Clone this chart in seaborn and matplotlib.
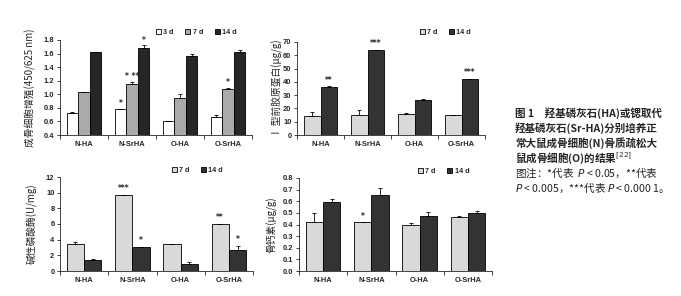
import matplotlib
matplotlib.use("Agg")
import matplotlib.pyplot as plt
import seaborn as sns
import pandas as pd
import numpy as np

sns.set_style("ticks")
plt.rcParams['font.family'] = ['Noto Sans CJK SC', 'DejaVu Sans']
plt.rcParams['mathtext.fontset'] = 'dejavusans'

groups = ["N-HA", "N-SrHA", "O-HA", "O-SrHA"]

# Panel A: osteoblast proliferation
a_days = ["3 d", "7 d", "14 d"]
a_3d = [0.73, 0.78, 0.61, 0.66]
a_7d = [1.03, 1.15, 0.94, 1.08]
a_14d = [1.62, 1.68, 1.56, 1.63]
a_3d_err = [0.01, 0.01, 0.0, 0.03]
a_7d_err = [0.005, 0.03, 0.06, 0.01]
a_14d_err = [0.01, 0.04, 0.03, 0.02]
a_marks = [("N-SrHA", "3 d", "*"), ("N-SrHA", "7 d", "* **"), ("N-SrHA", "14 d", "*"), ("O-SrHA", "7 d", "*")]

# Panel B: type I procollagen
b_days = ["7 d", "14 d"]
b_7d = [14, 15, 16, 15]
b_14d = [36, 64, 26.5, 42]
b_7d_err = [3.5, 4.0, 0.3, 0.4]
b_14d_err = [0.7, 0.3, 0.6, 0.3]
b_marks = [("N-HA", "14 d", "**"), ("N-SrHA", "14 d", "***"), ("O-SrHA", "14 d", "***")]

# Panel C: alkaline phosphatase
c_days = ["7 d", "14 d"]
c_7d = [3.5, 9.7, 3.4, 5.95]
c_14d = [1.4, 3.1, 0.95, 2.65]
c_7d_err = [0.2, 0.05, 0.1, 0.05]
c_14d_err = [0.1, 0.0, 0.25, 0.55]
c_marks = [("N-SrHA", "7 d", "***"), ("N-SrHA", "14 d", "*"), ("O-SrHA", "7 d", "**"), ("O-SrHA", "14 d", "*")]

# Panel D: osteocalcin
d_days = ["7 d", "14 d"]
d_7d = [0.42, 0.42, 0.40, 0.465]
d_14d = [0.59, 0.65, 0.47, 0.50]
d_7d_err = [0.08, 0.0, 0.01, 0.005]
d_14d_err = [0.03, 0.06, 0.04, 0.02]
d_marks = [("N-SrHA", "7 d", "*")]

caption_lines = ["图 1　羟基磷灰石(HA)或锶取代",
                 "羟基磷灰石(Sr-HA)分别培养正",
                 "常大鼠成骨细胞(N)骨质疏松大",
                 "鼠成骨细胞(O)的结果$^{[22]}$"]
note_lines = ["图注：*代表  $P$ < 0.05，**代表",
              "$P$ < 0.005，***代表 $P$ < 0.000 1。"]

W, H = 681, 296
fig = plt.figure(figsize=(W / 100, H / 100), dpi=100)


def rect(l, t, r, b):
    return [l / W, 1 - b / H, (r - l) / W, (b - t) / H]


def panel(pos, days, vals, errs, colors, ylim, yticks, yfmt, ylabel, marks, leg_anchor, ylab_x, mark_off):
    ax = fig.add_axes(rect(*pos))
    rows = []
    for d, v, e in zip(days, vals, errs):
        for g, vv, ee in zip(groups, v, e):
            rows.append({"group": g, "day": d, "value": vv, "err": ee})
    df = pd.DataFrame(rows)
    sns.barplot(data=df, x="group", y="value", hue="day", order=groups, hue_order=days,
                palette=colors, errorbar=None, width=0.72, edgecolor="black", linewidth=0.6,
                saturation=1, ax=ax)
    centers = {}
    for d, cont, e in zip(days, ax.containers, errs):
        xs = [p.get_x() + p.get_width() / 2 for p in cont.patches]
        ys = [p.get_height() for p in cont.patches]
        ax.errorbar(xs, ys, yerr=[np.zeros(len(e)), e], fmt="none", ecolor="black",
                    elinewidth=0.6, capsize=1.6, capthick=0.6)
        for g, x, y, ee in zip(groups, xs, ys, e):
            centers[(g, d)] = (x, y + ee)
    for g, d, t in marks:
        x, y = centers[(g, d)]
        ax.text(x, y + mark_off, t, ha="center", va="bottom", fontsize=5.5,
                family="DejaVu Sans", fontweight="bold")
    ax.set_ylim(*ylim)
    ax.set_xlim(-0.5, 3.5)
    ax.set_yticks(yticks)
    ax.set_yticklabels([yfmt.format(v) for v in yticks], fontsize=5.4, fontweight="bold",
                       family="Liberation Sans")
    ax.set_xticks(range(4))
    ax.set_xticklabels(groups, fontsize=5.4, fontweight="bold", family="Liberation Sans")
    ax.set_xticks([-0.5, 0.5, 1.5, 2.5, 3.5], minor=True)
    ax.tick_params(axis="x", which="major", length=0, pad=4)
    ax.tick_params(axis="x", which="minor", length=3, width=0.6, direction="out")
    ax.tick_params(axis="y", length=2.5, width=0.6, pad=1.5)
    ax.set_xlabel("")
    ax.set_ylabel("")
    for s in ["top", "right"]:
        ax.spines[s].set_visible(False)
    for s in ["left", "bottom"]:
        ax.spines[s].set_linewidth(0.6)
    sns.move_legend(ax, "center", bbox_to_anchor=leg_anchor, ncol=len(days), frameon=False,
                    title=None, fontsize=5.2, handlelength=0.7, handleheight=0.7,
                    handletextpad=0.3, columnspacing=1.6)
    for t in ax.get_legend().get_texts():
        t.set_fontweight("bold")
        t.set_family("Liberation Sans")
    fig.text(ylab_x / W, 1 - (pos[1] + pos[3]) / 2 / H, ylabel, rotation=90, ha="center",
             va="center", fontsize=7)
    return ax


panel((60, 40, 252, 135), a_days, [a_3d, a_7d, a_14d], [a_3d_err, a_7d_err, a_14d_err],
      ["white", "#aaaaaa", "#262626"], (0.4, 1.8), [0.4, 0.6, 0.8, 1.0, 1.2, 1.4, 1.6, 1.8],
      "{:.1f}", "成骨细胞增殖(450/625 nm)", a_marks, (0.71, 1.08), 30, 0.01)

panel((297, 42, 485, 135), b_days, [b_7d, b_14d], [b_7d_err, b_14d_err],
      ["#d9d9d9", "#333333"], (0, 70), list(range(0, 71, 10)),
      "{:d}", "Ⅰ 型前胶原蛋白(μg/g)", b_marks, (0.79, 1.1), 277, 1.0)

panel((60, 177, 253, 271), c_days, [c_7d, c_14d], [c_7d_err, c_14d_err],
      ["#d9d9d9", "#333333"], (0, 12), list(range(0, 13, 2)),
      "{:d}", "碱性磷酸酶(U/mg)", c_marks, (0.71, 1.07), 32, 0.2)

panel((299, 178, 492, 271), d_days, [d_7d, d_14d], [d_7d_err, d_14d_err],
      ["#d9d9d9", "#333333"], (0, 0.8), [0.0, 0.1, 0.2, 0.3, 0.4, 0.5, 0.6, 0.7, 0.8],
      "{:.1f}", "骨钙素(μg/g)", d_marks, (0.75, 1.065), 272, 0.01)

y0 = 113
for i, line in enumerate(caption_lines):
    fig.text(515 / W, 1 - (y0 + i * 15) / H, line, ha="left", va="center", fontsize=7.6,
             fontweight="bold")
for i, line in enumerate(note_lines):
    fig.text(515 / W, 1 - (y0 + (4 + i) * 15) / H, line, ha="left", va="center", fontsize=7.6,
             color="#222222")

fig.savefig("out.png", dpi=100)
